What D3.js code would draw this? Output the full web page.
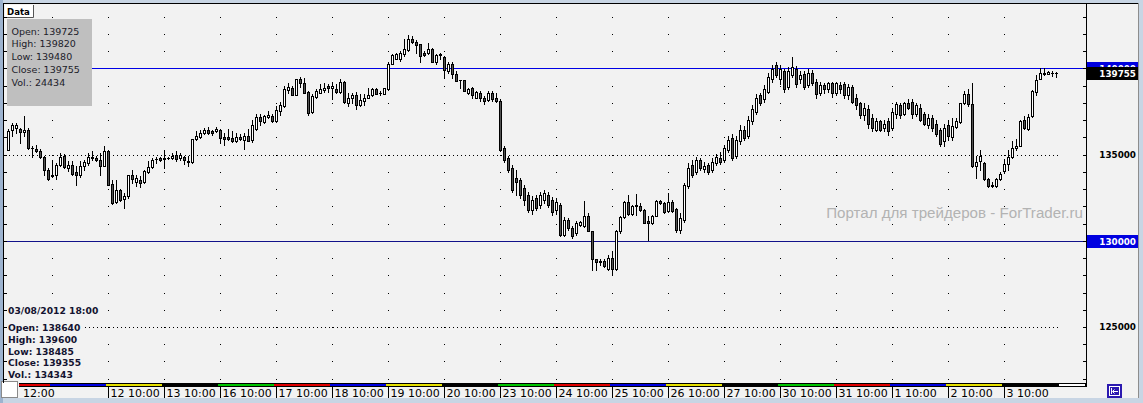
<!DOCTYPE html>
<html>
<head>
<meta charset="utf-8">
<script src="https://cdn.jsdelivr.net/npm/d3@7"></script>
<style>
html, body { margin: 0; padding: 0; background: #c8d5e4; }
svg { display: block; font-family: "DejaVu Sans", Verdana, sans-serif; }
</style>
</head>
<body>
<svg id="chart" width="1143" height="403"></svg>
<script>
(() => {
    // trading days shown, hourly bars 10:00..23:00 (first day starts at 13:00)
    const days = ["2012-07-10", "2012-07-11", "2012-07-12", "2012-07-13", "2012-07-16", "2012-07-17",
        "2012-07-18", "2012-07-19", "2012-07-20", "2012-07-23", "2012-07-24", "2012-07-25", "2012-07-26",
        "2012-07-27", "2012-07-30", "2012-07-31", "2012-08-01", "2012-08-02", "2012-08-03"];
    const firstHour = 13;
    const openHour = 10;
    const closeHour = 23;

    const opens = [
        135290,136400,136550,136510,136300,136450,135390,135330,135230,134870,
        134130,133840,133840,134380,134940,134230,134420,133970,133800,134320,
        134520,134870,134810,134710,134360,135230,133300,132230,132920,132420,
        132580,133840,133390,133510,133390,133970,134260,134750,134810,134750,
        134810,134810,135000,134810,134870,134650,134580,135910,136030,136260,
        136400,136380,136360,136450,136010,136010,135970,135770,136010,135870,
        136060,135830,136490,137190,136880,137170,137230,136940,137520,137810,
        138740,138880,138450,139360,139170,138620,137460,138330,138590,138720,
        138970,138840,138820,138620,139200,138010,138300,138430,137870,138100,
        138300,138430,138820,138590,138530,138780,140270,140560,140560,140810,
        141060,141730,141530,141400,140910,140870,141100,140370,140800,140680,
        139840,140270,139650,139320,139300,138590,138880,138300,138590,138300,
        138160,138550,138300,138100,135410,134830,134240,133660,133550,133080,
        132670,131800,132500,132090,132380,132670,132380,131800,132090,130350,
        131220,130760,130470,130930,130870,131410,130540,128940,128840,128840,
        128350,129030,128350,130540,131380,132230,131550,132090,132030,131800,
        131120,131030,131450,132320,132190,131700,132230,131840,130640,131220,
        133200,134420,134010,134710,134180,134420,134130,134530,134830,134710,
        135290,135990,134940,135760,136450,136100,136920,137500,138430,138200,
        138660,139360,140170,139360,139830,138900,139590,139940,139360,139650,
        139010,139710,139240,138550,139010,138780,139130,138550,139010,139070,
        138430,138900,138310,137970,137270,137620,137150,136450,136920,136570,
        136920,136570,137330,137850,137380,137970,138080,137380,137730,137380,
        136690,137150,136800,136450,135760,136690,136030,136610,136880,137970,
        138490,137910,134320,134610,134520,133590,133260,133160,133590,134030,
        134480,134870,135390,135520,136980,136510,137230,138640,139400,139750,
        139690,139740,139725];
    const highs = [
        136490,136840,136840,136550,137230,136550,135480,135540,135330,134900,
        134230,134710,134520,135100,135040,134610,134610,134320,134610,134670,
        135100,135190,134940,135100,135480,135250,133550,133550,133010,132770,
        133840,134130,133840,133740,134130,134610,134810,134870,134870,135250,
        134870,135100,135190,135100,134940,134900,135930,136350,136400,136550,
        136610,136410,136590,136490,136260,136510,136350,136260,136220,136260,
        136490,137030,137330,137330,137270,137520,137330,137810,138040,138970,
        139130,138970,139360,139520,139460,138680,138490,138780,139070,139130,
        139070,139200,139070,139400,139260,138550,138590,138620,138490,138490,
        138880,138880,138880,138680,138880,140390,140810,140910,141010,141690,
        141920,141880,141650,141400,141010,141450,141200,140810,140870,140700,
        140370,140370,139840,139330,139300,138880,138940,138680,138680,138390,
        138680,138680,138550,138200,135520,134940,134420,134130,133660,133260,
        132850,132620,132670,132850,132970,132850,132560,132500,132210,131400,
        131340,130870,131160,131160,132290,131610,130560,128950,128940,128940,
        129190,129380,130640,131450,132290,132670,132090,132730,132190,131840,
        131410,131510,132380,132380,132270,132770,132380,131920,131630,133370,
        134530,134710,134880,134830,134590,134530,134830,135060,135170,135580,
        136100,136220,136050,136690,136630,137210,137850,138490,138600,139010,
        139710,140170,140350,140170,139940,140060,140640,140120,139830,139830,
        139940,139880,139360,139190,139130,139240,139240,139240,139190,139240,
        139070,139010,138490,138080,137970,137850,137380,137150,137030,137030,
        137150,137730,138080,138020,138080,138200,138200,138020,137910,137500,
        137380,137270,137030,136570,136800,137030,137130,137130,138010,138680,
        138780,139130,134900,135250,134550,133650,133390,133650,133970,134750,
        135290,135770,135910,136980,137230,137330,138740,139600,140040,140040,
        139840,139840,139820];
    const lows = [
        135250,136060,136260,135680,136060,135350,134870,135130,134810,133840,
        133550,133700,133590,134320,134230,134030,133840,133220,133700,134130,
        134420,134710,134610,133840,134320,133220,132150,132190,132330,131900,
        132480,133350,133200,133120,133350,133940,134230,134520,134650,134230,
        134730,134750,134610,134670,134460,134320,134520,135870,135970,136220,
        136220,136160,136300,135680,135540,135870,135750,135740,135870,135350,
        135770,135720,136450,136740,136840,137130,136900,136900,137270,137770,
        138590,138430,138430,138940,138550,137290,137420,138300,138550,138620,
        138620,138200,138590,138590,138010,137810,138010,137660,137810,137870,
        138260,138390,138490,138450,138490,138740,140230,140520,140420,140720,
        141010,141450,140910,140370,140720,140810,140360,140230,140520,139460,
        139750,139460,139250,138880,138670,138490,138300,138300,138100,137910,
        138100,138100,138040,135230,134590,134010,132850,132670,132500,132090,
        131690,131570,131800,131920,132210,131980,131510,131570,130290,130290,
        130640,130170,130350,130870,130810,130540,128310,128310,128600,128470,
        128310,128080,128310,130450,131320,131510,131510,131510,131700,131030,
        130060,130990,131410,132150,131610,131650,131690,130520,130470,131100,
        133080,133720,133900,134130,134010,133900,134010,134420,134480,134590,
        135170,134710,134830,135640,135870,135990,136800,137380,137850,138080,
        138550,139240,139480,139070,138660,138780,139480,138900,139130,138780,
        138900,139010,138310,138430,138600,138660,138370,138430,138600,138310,
        138200,137970,137620,137150,137030,136570,136340,136340,136340,136340,
        136160,136450,137150,137150,137270,137620,137150,137210,136920,136690,
        136570,136340,136100,135520,135520,135870,135830,136550,136840,137910,
        137810,134300,133650,134130,133550,133120,133100,133120,133550,133940,
        134130,134810,135290,135480,136490,136450,137190,138485,139360,139640,
        139650,139540,139480];
    const closes = [
        136360,136740,136740,136320,136450,135390,135380,135190,134870,134090,
        133590,133740,134420,134870,134260,134420,133900,133800,134360,134550,
        134870,134790,134670,134360,135230,133240,132190,132920,132340,132620,
        133840,133600,133650,133350,134030,134260,134710,134760,134710,134810,
        134790,134940,134750,134980,134670,134590,135910,136100,136260,136400,
        136260,136260,136510,135970,135910,135910,135770,136010,135910,136060,
        135810,136690,137190,136940,137230,137270,136940,137560,137850,138780,
        138940,138450,139360,139170,138590,137420,138390,138680,138780,138880,
        138840,138970,138650,139200,138040,138300,138430,137870,138140,138260,
        138430,138820,138530,138600,138840,140270,140760,140810,140870,141100,
        141730,141530,141340,140720,140760,141100,140370,140760,140820,139880,
        140230,139650,139260,139310,138680,138780,138430,138620,138300,138100,
        138550,138200,138100,135290,134710,134130,132970,133430,132670,132380,
        131800,132380,131920,132670,132790,132090,131690,132270,130350,131220,
        130760,130290,131050,131070,131410,130580,128940,128780,128760,128510,
        128990,128350,130540,131380,132230,131570,132030,132000,131760,131060,
        131030,131410,132320,132190,131650,132230,131700,130640,131340,133260,
        134240,133840,134710,134240,134360,134010,134590,134880,134590,135410,
        135870,134830,135870,136450,135990,137030,137620,138310,137970,138780,
        139480,139940,139590,139940,138780,139830,140060,139070,139590,138900,
        139710,139130,138490,139010,138780,139130,138550,139130,138780,138430,
        138900,138080,137850,137270,137730,136800,136570,136920,136450,136800,
        136340,137500,137910,137270,137970,137730,137380,137850,137030,136800,
        137150,136570,136220,135640,136570,136100,136650,136940,137970,138490,
        137910,134320,134550,134900,133590,133200,133160,133590,133900,134480,
        134870,135390,135520,136940,136550,137190,138680,139355,139750,139650,
        139790,139750,139755];

    const priceLevels = d3.range(122000, 144000, 1000);
    const labelLevels = [125000, 135000];
    const dottedLevels = [125000, 135000];
    const lineLevels = [140000, 130000];
    const lastBarInfo = ["Open: 139725", "High: 139820", "Low: 139480", "Close: 139755", "Vol.: 24434"];
    const cursorInfo = ["03/08/2012 18:00", "Open: 138640", "High: 139600", "Low: 138485", "Close: 139355", "Vol.: 134343"];
    const firstTimeLabel = "12:00";
    const watermark = "Портал для трейдеров - ForTrader.ru";

    // build the bar list
    const bars = [];
    days.forEach((d, k) => {
        for (let h = (k === 0 ? firstHour : openHour); h <= closeHour; h++) {
            const i = bars.length;
            bars.push({day: d, dayIdx: k, hour: h, o: opens[i], h: highs[i], l: lows[i], c: closes[i]});
        }
    });
    const lastClose = closes[closes.length - 1];

    const svg = d3.select("#chart");
    const W = +svg.attr("width");
    const H = +svg.attr("height");

    const x = d3.scaleLinear()
        .domain([0, bars.length - 1])
        .range([8, 8 + 4 * (bars.length - 1)]);
    const y = d3.scaleLinear()
        .domain([125000, 140000])
        .range([327, 68.4])
        .interpolate(d3.interpolateRound);

    const plotLeft = 4, plotRight = 1086;

    // window + panel
    svg.append("rect").attr("width", W).attr("height", H).attr("fill", "#c8d5e4");
    svg.append("rect").attr("x", 0).attr("y", 0).attr("width", 3).attr("height", H).attr("fill", "#9db3cf");
    svg.append("rect").attr("x", 4).attr("y", 4).attr("width", 1134).attr("height", 394).attr("fill", "#f2f2f2");

    // grid dots on each 10:00 column
    const tickIdx = bars.map((b, i) => i).filter(i => bars[i].hour === openHour);
    svg.append("g")
        .selectAll("rect")
        .data(d3.cross(tickIdx, priceLevels))
        .join("rect")
        .attr("x", d => x(d[0]))
        .attr("y", d => y(d[1]))
        .attr("width", 1)
        .attr("height", 1)
        .attr("fill", "#000");

    // dotted levels
    svg.append("g")
        .selectAll("line")
        .data(dottedLevels)
        .join("line")
        .attr("x1", 5).attr("x2", 1059)
        .attr("y1", d => y(d) + 0.5).attr("y2", d => y(d) + 0.5)
        .attr("stroke", "#000")
        .attr("stroke-dasharray", "1,3");

    // horizontal level lines
    svg.append("g")
        .selectAll("line")
        .data(lineLevels)
        .join("line")
        .attr("x1", plotLeft).attr("x2", plotRight)
        .attr("y1", d => y(d) + 0.5).attr("y2", d => y(d) + 0.5)
        .attr("stroke", (d, i) => i === 0 ? "#0000e6" : "#12128a");

    // watermark
    const wm = svg.append("text")
        .attr("x", 1083)
        .attr("y", 218)
        .attr("text-anchor", "end")
        .attr("font-family", "'Liberation Sans', Arial, sans-serif")
        .attr("font-size", 16)
        .attr("fill", "#b3b3b3")
        .text(watermark);
    const wmLen = wm.node().getComputedTextLength();
    if (wmLen > 0) wm.attr("font-size", 16 * 257 / wmLen);

    // candles
    const candles = svg.append("g");
    candles.selectAll("line")
        .data(bars)
        .join("line")
        .attr("x1", (d, i) => x(i) + 0.5)
        .attr("x2", (d, i) => x(i) + 0.5)
        .attr("y1", d => y(d.h))
        .attr("y2", d => y(d.l) + 1)
        .attr("stroke", "#000");

    candles.selectAll("rect")
        .data(bars)
        .join("rect")
        .each(function (d, i) {
            const top = y(Math.max(d.o, d.c));
            const bot = y(Math.min(d.o, d.c));
            const el = d3.select(this);
            if (bot - top < 1) {
                el.attr("x", x(i) - 1).attr("y", top).attr("width", 3).attr("height", 1)
                    .attr("fill", "#000");
            } else {
                el.attr("x", x(i) - 0.5).attr("y", top + 0.5).attr("width", 2).attr("height", bot - top)
                    .attr("fill", d.c >= d.o ? "#ffffff" : "#525252")
                    .attr("stroke", "#000");
            }
        });

    // last bar info box
    svg.append("rect")
        .attr("x", 7).attr("y", 19).attr("width", 85).attr("height", 87)
        .attr("fill", "#bfbfbf");
    svg.append("g")
        .selectAll("text")
        .data(lastBarInfo)
        .join("text")
        .attr("x", 11.5)
        .attr("y", (d, i) => 34.5 + i * 12.75)
        .attr("font-size", 9.5)
        .attr("fill", "#1c1c2a")
        .text(d => d);

    // "Data" tab
    svg.append("rect").attr("x", 5).attr("y", 5).attr("width", 28).attr("height", 12).attr("fill", "#fff");
    svg.append("path").attr("d", "M33.5,5V17.5H5").attr("fill", "none").attr("stroke", "#555");
    svg.append("text")
        .attr("x", 7).attr("y", 14.5)
        .attr("font-size", 8.6).attr("font-weight", "bold")
        .attr("fill", "#000")
        .text("Data");

    // left border ticks
    svg.append("g")
        .attr("transform", `translate(${plotLeft},0)`)
        .call(d3.axisRight(y).tickValues(priceLevels).tickSize(3).tickFormat(""))
        .call(g => g.select(".domain").remove());

    // cursor info (bottom left)
    const ci = svg.append("g");
    const ciY = [314, 331, 342.7, 354.5, 366.4, 378.3];
    cursorInfo.forEach((t, i) => {
        const bg = ci.append("rect").attr("fill", "#f2f2f2");
        const tx = ci.append("text")
            .attr("x", 8).attr("y", ciY[i])
            .attr("font-size", 9.2).attr("font-weight", "bold")
            .attr("fill", "#131330")
            .text(t);
        const len = tx.node().getComputedTextLength();
        bg.attr("x", 8).attr("y", ciY[i] - 9).attr("width", len + 2).attr("height", 11);
    });

    // date band with weekday colours
    const weekdayColor = {1: "#00c400", 2: "#e00000", 3: "#0000e0", 4: "#e6e000", 5: "#000000"};
    const band = svg.append("g");
    band.append("rect").attr("x", 19).attr("y", 383).attr("width", plotRight - 19).attr("height", 4).attr("fill", "#000");
    const segs = days.map((d, k) => {
        const idx = bars.map((b, i) => i).filter(i => bars[i].dayIdx === k);
        return {day: d, first: idx[0], last: idx[idx.length - 1], wd: new Date(d + "T12:00:00Z").getUTCDay()};
    });
    band.selectAll("rect.seg")
        .data(segs)
        .join("rect")
        .attr("class", "seg")
        .attr("x", d => Math.max(19, x(d.first) - 2))
        .attr("width", d => x(d.last) + 2 - Math.max(19, x(d.first) - 2))
        .attr("y", 384).attr("height", 2)
        .attr("fill", d => weekdayColor[d.wd]);
    const endX = x(bars.length - 1) + 3;
    band.append("rect").attr("x", endX).attr("y", 384).attr("width", plotRight - 1 - endX).attr("height", 2).attr("fill", "#fff");

    // time axis (the first session's 10:00 is not labelled)
    const labelIdx = tickIdx.slice(1);
    svg.append("g")
        .attr("transform", "translate(0,387)")
        .call(d3.axisBottom(x)
            .tickValues(labelIdx)
            .tickSize(11)
            .tickFormat(i => `${+bars[i].day.slice(8)} ${bars[i].hour}:00`))
        .call(g => g.select(".domain").remove())
        .call(g => g.selectAll("line").attr("stroke", "#000"))
        .call(g => g.selectAll("text")
            .attr("x", 2).attr("y", 2).attr("dy", "0.71em")
            .attr("text-anchor", "start")
            .attr("font-family", "'DejaVu Sans', Verdana, sans-serif")
            .attr("font-size", 11)
            .attr("fill", "#000"));
    svg.append("text")
        .attr("x", 23).attr("y", 396.8)
        .attr("font-size", 11).attr("fill", "#000")
        .text(firstTimeLabel);

    // white corner box
    svg.append("rect").attr("x", 1.5).attr("y", 381.5).attr("width", 16).attr("height", 16)
        .attr("fill", "#fff").attr("stroke", "#8a8a8a");

    // price axis
    svg.append("line")
        .attr("x1", plotRight + 0.5).attr("x2", plotRight + 0.5)
        .attr("y1", 4).attr("y2", 387)
        .attr("stroke", "#000");
    svg.append("g")
        .attr("transform", `translate(${plotRight},0)`)
        .call(d3.axisLeft(y).tickValues(priceLevels).tickSize(3).tickFormat(""))
        .call(g => g.select(".domain").remove());
    svg.append("g")
        .attr("transform", `translate(${plotRight},0)`)
        .call(d3.axisRight(y).tickValues(labelLevels).tickSize(0).tickPadding(50).tickFormat(d3.format("d")))
        .call(g => g.select(".domain").remove())
        .call(g => g.selectAll("text")
            .attr("text-anchor", "end")
            .attr("font-family", "'DejaVu Sans', Verdana, sans-serif")
            .attr("font-size", 8.8).attr("font-weight", "bold")
            .attr("fill", "#000"));

    // value markers on the price axis; the 140000 one sits partly under the last close
    const clip = svg.append("clipPath").attr("id", "upperMarker");
    clip.append("rect").attr("x", plotRight).attr("y", 0).attr("width", 60).attr("height", y(lastClose) - 6);
    const markers = [
        {v: lineLevels[0], fill: "#0000e0", clip: true},
        {v: lastClose, fill: "#000"},
        {v: lineLevels[1], fill: "#0000e0"}
    ];
    const mk = svg.append("g").selectAll("g").data(markers).join("g")
        .attr("clip-path", d => d.clip ? "url(#upperMarker)" : null);
    mk.append("rect")
        .attr("x", plotRight + 1).attr("y", d => y(d.v) - 6)
        .attr("width", 51).attr("height", 13)
        .attr("fill", d => d.fill);
    mk.append("text")
        .attr("x", 1136).attr("y", d => y(d.v) + 4)
        .attr("text-anchor", "end")
        .attr("font-size", 8.8).attr("font-weight", "bold")
        .attr("fill", "#fff")
        .text(d => d.v);

    // frame
    svg.append("line").attr("x1", 3).attr("x2", 1139).attr("y1", 3.5).attr("y2", 3.5).attr("stroke", "#000");
    svg.append("line").attr("x1", 3.5).attr("x2", 3.5).attr("y1", 3).attr("y2", 383).attr("stroke", "#000");
    svg.append("line").attr("x1", 1138.5).attr("x2", 1138.5).attr("y1", 3).attr("y2", 398).attr("stroke", "#8d8d8d");

    // scroll-to-end icon
    const ic = svg.append("g");
    ic.append("rect").attr("x", 1107).attr("y", 384).attr("width", 15).attr("height", 14).attr("fill", "#2b19b0");
    ic.append("rect").attr("x", 1109.5).attr("y", 386.5).attr("width", 10).attr("height", 9)
        .attr("fill", "none").attr("stroke", "#fff");
    ic.append("path").attr("d", "M1111.5,388V394M1113,391.5H1118M1114.5,389.5L1112.5,391.5L1114.5,393.5")
        .attr("fill", "none").attr("stroke", "#fff");
})();
</script>
</body>
</html>
